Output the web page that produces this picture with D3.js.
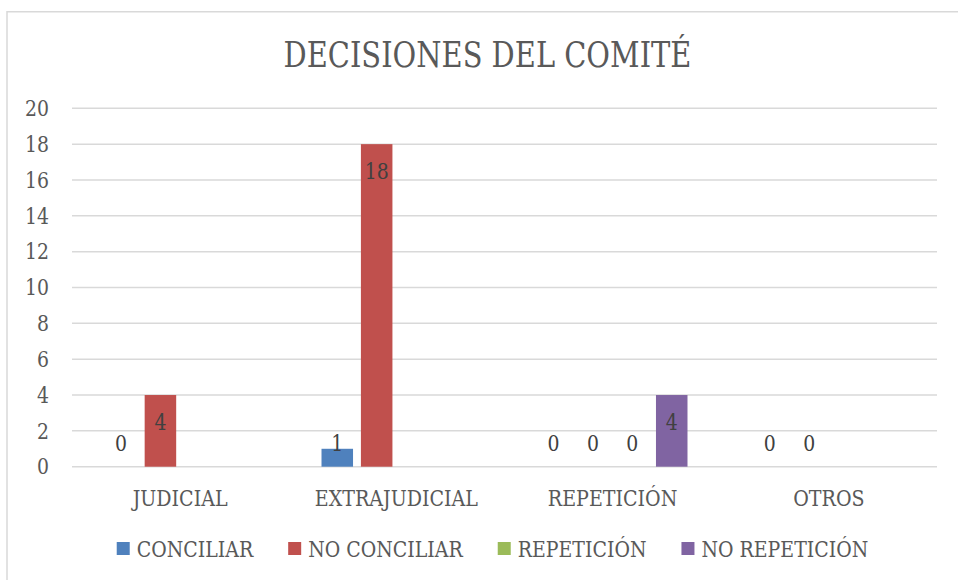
<!DOCTYPE html>
<html>
<head>
<meta charset="utf-8">
<script src="https://cdn.jsdelivr.net/npm/d3@7"></script>
<style>
  body { margin: 0; background: #fff; }
</style>
</head>
<body>
<div id="chart"></div>
<script>
var width = 958, height = 580;
var margin = { top: 108.3, right: 21, bottom: 113.3, left: 72 };

var categories = ["JUDICIAL", "EXTRAJUDICIAL", "REPETICIÓN", "OTROS"];
var seriesNames = ["CONCILIAR", "NO CONCILIAR", "REPETICIÓN", "NO REPETICIÓN"];
var seriesColors = ["#4F81BD", "#C0504D", "#9BBB59", "#8064A2"];
// null = no value for that category
var conciliar = [0, 1, 0, 0];
var noConciliar = [4, 18, 0, 0];
var repeticion = [null, null, 0, null];
var noRepeticion = [null, null, 4, null];
var yTicks = [0, 2, 4, 6, 8, 10, 12, 14, 16, 18, 20];

var seriesValues = [conciliar, noConciliar, repeticion, noRepeticion];
var fontStack = "'DejaVu Serif', serif";

var svg = d3.select("#chart").append("svg")
    .attr("width", width)
    .attr("height", height)
    .attr("font-family", fontStack);

// fit a text horizontally to the width it has in the reference
function squeeze(sel, target) {
  var w = sel.node().getComputedTextLength();
  return w > 0 ? target / w : 1;
}

// chart border (left + top only visible)
svg.append("path")
    .attr("d", "M7,580 V11.7 H958")
    .attr("fill", "none")
    .attr("stroke", "#D9D9D9")
    .attr("stroke-width", 1.5);

// title
var title = svg.append("text")
    .attr("text-anchor", "middle")
    .attr("font-size", 35.5)
    .attr("fill", "#595959")
    .text("DECISIONES DEL COMITÉ");
title.attr("transform", "translate(487.5,66.7) scale(" + squeeze(title, 408) + ",1)");

var innerW = width - margin.left - margin.right;
var innerH = height - margin.top - margin.bottom;

var g = svg.append("g")
    .attr("transform", "translate(" + margin.left + "," + margin.top + ")");

var x0 = d3.scaleBand().domain(categories).range([0, innerW]).padding(0);
var x1 = d3.scaleBand().domain(d3.range(seriesNames.length))
    .range([0, x0.bandwidth()])
    .paddingInner(0.2)
    .paddingOuter(0.844);
var y = d3.scaleLinear().domain([0, 20]).range([innerH, 0]);

// gridlines
g.append("g")
    .selectAll("line")
    .data(yTicks)
    .enter().append("line")
    .attr("x1", 0)
    .attr("x2", innerW)
    .attr("y1", function (d) { return y(d); })
    .attr("y2", function (d) { return y(d); })
    .attr("stroke", "#D9D9D9")
    .attr("stroke-width", 1.5);

var numSize = 21.5, wordSize = 23, legendSize = 22;
// digits: scale from the "20" label (24px wide in the reference)
var probe = svg.append("text").attr("font-size", numSize).text("20");
var digitScale = squeeze(probe, 24);
probe.remove();
// letters: scale from "JUDICIAL" (95px wide in the reference)
probe = svg.append("text").attr("font-size", wordSize).text("JUDICIAL");
var letterScale = squeeze(probe, 95);
probe.remove();
// legend letters: scale from "CONCILIAR" (116.5px wide in the reference)
probe = svg.append("text").attr("font-size", legendSize).text("CONCILIAR");
var legendScale = squeeze(probe, 116.5);
probe.remove();

// y tick labels
g.append("g")
    .selectAll("text")
    .data(yTicks)
    .enter().append("text")
    .attr("transform", function (d) {
      return "translate(-23," + y(d) + ") scale(" + digitScale + ",1)";
    })
    .attr("dy", "0.36em")
    .attr("text-anchor", "end")
    .attr("font-size", numSize)
    .attr("fill", "#595959")
    .text(function (d) { return d; });

// bars
var points = [];
categories.forEach(function (c, ci) {
  seriesValues.forEach(function (vals, si) {
    if (vals[ci] !== null) points.push({ cat: c, s: si, v: vals[ci] });
  });
});

g.append("g")
    .selectAll("rect")
    .data(points)
    .enter().append("rect")
    .attr("x", function (d) { return x0(d.cat) + x1(d.s); })
    .attr("y", function (d) { return y(d.v); })
    .attr("width", x1.bandwidth())
    .attr("height", function (d) { return y(0) - y(d.v); })
    .attr("fill", function (d) { return seriesColors[d.s]; });

// value labels (inside end, pushed up when bar too short)
g.append("g")
    .selectAll("text")
    .data(points)
    .enter().append("text")
    .attr("transform", function (d) {
      var lx = x0(d.cat) + x1(d.s) + x1.bandwidth() / 2;
      var ly = Math.min(y(d.v) + 35, y(0) - 16);
      return "translate(" + lx + "," + ly + ") scale(" + digitScale + ",1)";
    })
    .attr("text-anchor", "middle")
    .attr("font-size", numSize)
    .attr("fill", "#404040")
    .text(function (d) { return d.v; });

// category labels
g.append("g")
    .selectAll("text")
    .data(categories)
    .enter().append("text")
    .attr("transform", function (d) {
      return "translate(" + (x0(d) + x0.bandwidth() / 2) + "," + (y(0) + 39.5) + ") scale(" + letterScale + ",1)";
    })
    .attr("text-anchor", "middle")
    .attr("font-size", wordSize)
    .attr("fill", "#595959")
    .text(function (d) { return d; });

// legend
var legend = svg.append("g");
var items = legend.selectAll("g")
    .data(seriesNames)
    .enter().append("g");
items.append("rect")
    .attr("y", 542)
    .attr("width", 13)
    .attr("height", 13)
    .attr("fill", function (d, i) { return seriesColors[i]; });
items.append("text")
    .attr("font-size", legendSize)
    .attr("fill", "#595959")
    .attr("transform", "translate(20,556.7) scale(" + legendScale + ",1)")
    .text(function (d) { return d; });

var offsets = [], cur = 0;
items.each(function () {
  var tw = d3.select(this).select("text").node().getComputedTextLength() * legendScale;
  offsets.push(cur);
  cur += 20 + tw + 35;
});
var total = cur - 35;
var startX = 492.5 - total / 2;
items.attr("transform", function (d, i) {
  return "translate(" + (startX + offsets[i]) + ",0)";
});
</script>
</body>
</html>
